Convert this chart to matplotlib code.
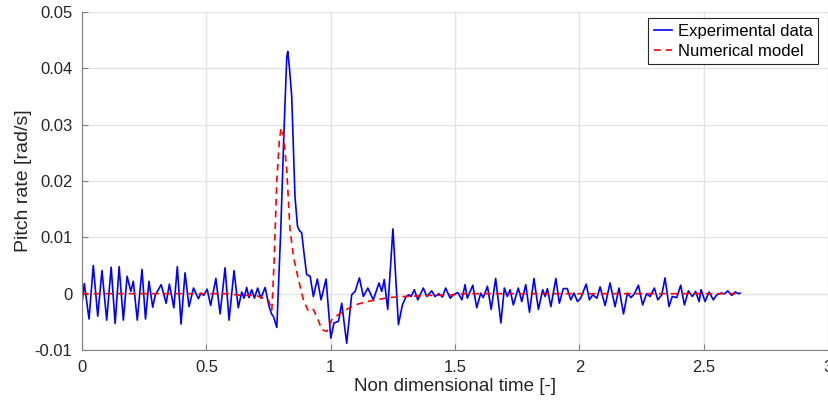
import matplotlib
matplotlib.use("Agg")
import matplotlib.pyplot as plt

plt.rcParams['font.family'] = ['Liberation Sans', 'DejaVu Sans']

# experimental pitch rate
t_exp = [0.000, 0.009, 0.028, 0.045, 0.063, 0.080, 0.099, 0.117, 0.133, 0.149,
         0.166, 0.181, 0.196, 0.206, 0.222, 0.241, 0.255, 0.269, 0.284, 0.294,
         0.303, 0.318, 0.338, 0.351, 0.369, 0.383, 0.398, 0.414, 0.430, 0.448,
         0.468, 0.478, 0.489, 0.503, 0.517, 0.538, 0.555, 0.575, 0.591, 0.611,
         0.628, 0.642, 0.651, 0.662, 0.671, 0.682, 0.693, 0.706, 0.719, 0.736,
         0.752, 0.763, 0.769, 0.783, 0.799, 0.812, 0.823, 0.827, 0.834, 0.843,
         0.856, 0.866, 0.874, 0.883, 0.894, 0.903, 0.917, 0.930, 0.946, 0.961,
         0.981, 1.000, 1.013, 1.031, 1.044, 1.064, 1.084, 1.098, 1.115, 1.131,
         1.149, 1.171, 1.194, 1.205, 1.215, 1.229, 1.250, 1.272, 1.288, 1.302,
         1.313, 1.323, 1.336, 1.350, 1.372, 1.386, 1.406, 1.419, 1.435, 1.449,
         1.462, 1.480, 1.493, 1.511, 1.527, 1.540, 1.549, 1.571, 1.587, 1.603,
         1.613, 1.630, 1.645, 1.663, 1.684, 1.698, 1.710, 1.721, 1.734, 1.754,
         1.768, 1.784, 1.799, 1.817, 1.835, 1.852, 1.862, 1.871, 1.885, 1.905,
         1.919, 1.935, 1.951, 1.965, 1.978, 1.992, 2.005, 2.027, 2.040, 2.053,
         2.070, 2.083, 2.103, 2.123, 2.143, 2.159, 2.177, 2.193, 2.207, 2.221,
         2.237, 2.254, 2.270, 2.284, 2.301, 2.315, 2.331, 2.344, 2.360, 2.373,
         2.391, 2.407, 2.422, 2.438, 2.454, 2.467, 2.481, 2.489, 2.505, 2.521,
         2.538, 2.552, 2.569, 2.585, 2.596, 2.612, 2.626, 2.639, 2.646]
q_exp = [-0.0016, 0.0018, -0.0045, 0.0050, -0.0040, 0.0041, -0.0047, 0.0047, -0.0053, 0.0048,
         -0.0047, 0.0031, 0.0004, 0.0022, -0.0047, 0.0043, -0.0045, 0.0022, -0.0024, -0.0003,
         0.0004, 0.0016, -0.0017, 0.0017, -0.0025, 0.0048, -0.0054, 0.0037, -0.0023, 0.0010,
         -0.0009, 0.0001, -0.0003, 0.0008, -0.0021, 0.0027, -0.0036, 0.0046, -0.0047, 0.0041,
         -0.0025, 0.0003, -0.0008, 0.0011, -0.0007, 0.0007, -0.0008, 0.0010, -0.0008, 0.0011,
         -0.0023, -0.0037, -0.0040, -0.0060, 0.0114, 0.0290, 0.0420, 0.0430, 0.0400, 0.0350,
         0.0173, 0.0120, 0.0112, 0.0108, 0.0066, 0.0034, 0.0031, -0.0005, 0.0026, -0.0011,
         0.0026, -0.0079, -0.0052, -0.0049, -0.0017, -0.0088, -0.0002, 0.0004, 0.0028, -0.0005,
         0.0010, -0.0011, 0.0019, 0.0004, 0.0025, -0.0028, 0.0115, -0.0055, -0.0020, -0.0006,
         -0.0002, -0.0005, 0.0007, -0.0011, 0.0010, -0.0005, 0.0005, -0.0005, 0.0000, -0.0006,
         0.0010, -0.0008, -0.0002, 0.0002, -0.0011, 0.0016, -0.0008, 0.0015, -0.0025, 0.0001,
         -0.0007, 0.0013, -0.0028, 0.0027, -0.0052, 0.0010, -0.0005, 0.0007, -0.0020, 0.0010,
         -0.0014, 0.0016, -0.0033, 0.0027, -0.0028, 0.0007, -0.0005, 0.0009, -0.0023, 0.0027,
         -0.0017, 0.0009, 0.0009, -0.0011, 0.0001, -0.0014, -0.0008, 0.0017, -0.0011, -0.0002,
         -0.0008, 0.0012, -0.0021, 0.0019, -0.0023, 0.0010, -0.0036, 0.0001, -0.0007, 0.0000,
         0.0015, -0.0020, 0.0000, -0.0005, 0.0010, -0.0011, -0.0002, 0.0028, -0.0023, -0.0005,
         -0.0007, 0.0015, -0.0020, 0.0005, -0.0005, 0.0004, -0.0014, 0.0007, -0.0014, 0.0003,
         -0.0011, -0.0002, 0.0001, 0.0000, 0.0005, -0.0003, 0.0003, 0.0000, 0.0001]

# numerical model
t_num = [0.000, 0.580, 0.640, 0.700, 0.750, 0.763, 0.772, 0.783, 0.793, 0.800,
         0.810, 0.823, 0.836, 0.850, 0.870, 0.890, 0.910, 0.930, 0.946, 0.964,
         0.984, 1.004, 1.031, 1.064, 1.098, 1.145, 1.185, 1.230, 1.299, 1.406,
         1.488, 1.540, 2.646]
q_num = [0.0, 0.0, -0.0003, -0.0003, -0.0012, -0.0030, 0.0055, 0.0200, 0.0270, 0.0294,
         0.0280, 0.0220, 0.0114, 0.0066, 0.0025, -0.0011, -0.0031, -0.0028, -0.0043, -0.0064,
         -0.0067, -0.0046, -0.0037, -0.0028, -0.0020, -0.0014, -0.0011, -0.0007, -0.0005, -0.0003,
         -0.0002, 0.0, 0.0]

xticks = [0, 0.5, 1, 1.5, 2, 2.5, 3]
xlabels = ['0', '0.5', '1', '1.5', '2', '2.5', '3']
yticks = [-0.01, 0, 0.01, 0.02, 0.03, 0.04, 0.05]
ylabels = ['-0.01', '0', '0.01', '0.02', '0.03', '0.04', '0.05']

fig = plt.figure(figsize=(8.29, 4.03), dpi=100)
ax = fig.add_axes([0.099, 0.1315, 0.900, 0.8387])

ax.plot(t_exp, q_exp, color='#0000ff', lw=1.2, label='Experimental data')
ax.plot(t_num, q_num, color='#ff0000', lw=1.2, ls=(0, (4, 3)), label='Numerical model')

ax.set_xlim(0, 3)
ax.set_ylim(-0.01, 0.05)
ax.set_xticks(xticks)
ax.set_xticklabels(xlabels)
ax.set_yticks(yticks)
ax.set_yticklabels(ylabels)
ax.grid(True, color='#e3e3e3', lw=1)
ax.set_axisbelow(True)
for s in ['top', 'right']:
    ax.spines[s].set_visible(False)
for s in ['left', 'bottom']:
    ax.spines[s].set_color('#808080')
ax.tick_params(direction='in', length=4, colors='#808080', labelcolor='#262626', labelsize=12)
ax.tick_params(axis='x', pad=7)
ax.tick_params(axis='y', pad=7)

ax.set_xlabel('Non dimensional time [-]', fontsize=13.5, color='#262626', labelpad=2)
ax.set_ylabel('Pitch rate [rad/s]', fontsize=14, color='#262626', labelpad=2)

leg = ax.legend(loc='upper right', bbox_to_anchor=(0.987, 0.982), fontsize=12,
                fancybox=False, framealpha=1, edgecolor='#262626',
                handlelength=1.1, handletextpad=0.35, borderpad=0.35, labelspacing=0.28,
                borderaxespad=0)
leg.get_frame().set_linewidth(0.8)

fig.savefig('out.png', dpi=100)
